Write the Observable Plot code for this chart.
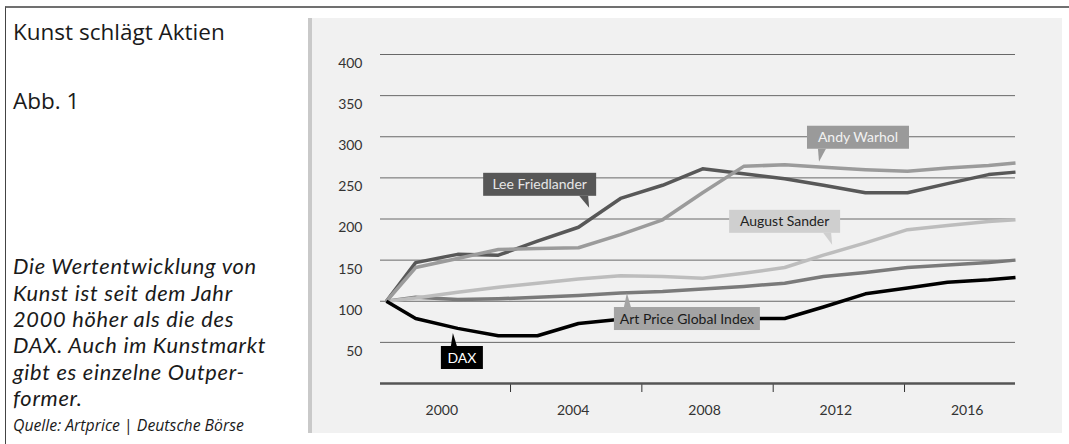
<!DOCTYPE html>
<html><head><meta charset="utf-8">
<script src="https://cdn.jsdelivr.net/npm/d3@7"></script>
<script src="https://cdn.jsdelivr.net/npm/@observablehq/plot@0.6"></script>
<style>
html,body{margin:0;padding:0;background:#fff;}
body{width:1069px;height:444px;position:relative;overflow:hidden;font-family:"Open Sans","Noto Sans",sans-serif;color:#1a1a1a;}
#frame{position:absolute;left:5px;top:6px;width:1064px;height:438px;border-top:2px solid #707070;border-left:1px solid #444;box-sizing:border-box;}
.t{position:absolute;left:13px;white-space:nowrap;}
#title{top:19.3px;font-size:22.5px;line-height:26px;}
#abb{top:88.3px;font-size:22.5px;line-height:26px;}
#desc{top:253.4px;font-family:Lato,"Open Sans",sans-serif;font-size:21.8px;line-height:26.3px;letter-spacing:0.72px;font-style:italic;}
#src{top:416.4px;font-size:15.8px;line-height:18px;font-style:italic;}
#src .bar{font-style:normal;}
#panel{position:absolute;left:308px;top:18px;width:750px;height:415px;background:#f1f1f1;border-left:4px solid #c9c9c9;}
#panel svg{display:block;}
</style>
</head><body>
<div id="frame"></div>
<div class="t" id="title">Kunst schlägt Aktien</div>
<div class="t" id="abb">Abb. 1</div>
<div class="t" id="desc">Die Wertentwicklung von<br>Kunst ist seit dem Jahr<br>2000 höher als die des<br>DAX. Auch im Kunstmarkt<br>gibt es einzelne Outper-<br>former.</div>
<div class="t" id="src">Quelle: Artprice <span class="bar">|</span> Deutsche Börse</div>
<div id="panel"></div>
<script>
// ---- data ----
const years = [1998.22, 1999.11, 2000.39, 2001.63, 2002.82, 2004.07, 2005.35, 2006.63, 2007.85, 2009.10, 2010.35, 2011.53, 2012.81, 2014.09, 2015.31, 2016.56, 2017.38];
const leeFriedlander = [100, 147, 157, 156, 173, 190, 225, 241, 261, 255, 249, 241, 232, 232, 243, 254, 257];
const andyWarhol     = [100, 141, 152, 163, 164, 165, 181, 199, 232, 264, 266, 263, 260, 258, 262, 265, 268];
const augustSander   = [100, 104, 111, 117, 122, 127, 131, 130, 128, 134, 141, 156, 171, 187, 192, 197, 199];
const artPriceIndex  = [100, 105, 102, 103, 105, 107, 110, 112, 115, 118, 122, 130, 135, 141, 144, 147, 150];
const dax            = [100, 79, 67, 58, 58, 73, 78, 79, 79, 79, 79, 93, 109, 116, 123, 126, 129];
const seriesNames = ["Art Price Global Index", "August Sander", "Lee Friedlander", "Andy Warhol", "DAX"];
const yTicks = [50, 100, 150, 200, 250, 300, 350, 400];
const xLabelYears = [2000, 2004, 2008, 2012, 2016];
const xTickYears = [2002, 2006, 2010, 2014];

// callout tips (data units)
const calloutLabels = ["Lee Friedlander", "Andy Warhol", "August Sander", "Art Price Global Index", "DAX"];
const calloutYears = [2004.41, 2011.41, 2011.81, 2005.56, 2000.26];
const calloutValues = [213, 269, 168, 109.4, 60.8];

// ---- build tables ----
const seriesValues = {
  "Art Price Global Index": artPriceIndex,
  "August Sander": augustSander,
  "Lee Friedlander": leeFriedlander,
  "Andy Warhol": andyWarhol,
  "DAX": dax
};
const rows = seriesNames.flatMap(name => seriesValues[name].map((v, i) => ({series: name, year: years[i], value: v})));
const lineColors = ["#7a7a7a", "#bdbdbd", "#585858", "#9b9b9b", "#000000"];

// callout styling / layout (pixels)
const calloutStyle = {
  "Lee Friedlander":        {fill: "#575757", text: "#e6e6e6", w: 113, edge: "right", off: 7,  side: "above", gap: 12, b0: -10, b1: -1},
  "Andy Warhol":            {fill: "#9a9a9a", text: "#f2f2f2", w: 102, edge: "left",  off: 12, side: "above", gap: 13, b0: -1,  b1: 7},
  "August Sander":          {fill: "#cfcfcf", text: "#222222", w: 111, edge: "right", off: 8,  side: "above", gap: 12, b0: -9,  b1: -1},
  "Art Price Global Index": {fill: "#a4a4a4", text: "#1a1a1a", w: 146, edge: "left",  off: 13, side: "below", gap: 14, b0: -3,  b1: 4},
  "DAX":                    {fill: "#000000", text: "#ffffff", w: 42,  edge: "left",  off: 12, side: "below", gap: 13, b0: -2,  b1: 4}
};
const callouts = calloutLabels.map((label, i) => ({label, year: calloutYears[i], value: calloutValues[i]}));

function calloutMark(c) {
  const s = calloutStyle[c.label];
  return Plot.text([c], {
    x: "year", y: "value", text: "label",
    render(index, scales, values, dimensions, context) {
      const px = scales.x(c.year), py = scales.y(c.value);
      const h = 23, w = s.w;
      const bx = s.edge === "left" ? px - s.off : px + s.off - w;
      const by = s.side === "above" ? py - s.gap - h : py + s.gap;
      const baseY = s.side === "above" ? by + h : by;
      const g = d3.create("svg:g");
      g.append("rect").attr("x", bx).attr("y", by).attr("width", w).attr("height", h).attr("fill", s.fill);
      g.append("path")
        .attr("d", `M${px + s.b0},${baseY}L${px},${py}L${px + s.b1},${baseY}Z`)
        .attr("fill", s.fill);
      g.append("text")
        .attr("x", bx + w / 2).attr("y", by + h / 2).attr("dy", "0.36em")
        .attr("text-anchor", "middle").attr("fill", s.text)
        .attr("font-size", 14).attr("font-family", "Lato, 'Noto Sans', sans-serif")
        .text(c.label);
      return g.node();
    }
  });
}

const chart = Plot.plot({
  width: 750,
  height: 415,
  marginLeft: 68,
  marginRight: 47,
  marginTop: 36,
  marginBottom: 50,
  style: {background: "transparent", fontFamily: "Lato, 'Noto Sans', sans-serif", fontSize: "14px", color: "#333"},
  x: {domain: [1998.04, 2017.38], axis: null},
  y: {domain: [0, 400], axis: null},
  color: {domain: seriesNames, range: lineColors},
  marks: [
    Plot.ruleY(yTicks, {stroke: "#686868", strokeWidth: 1}),
    Plot.axisY(yTicks, {tickSize: 0, tickPadding: 18, dy: 9, fontSize: 14, fill: "#333", label: null}),
    Plot.axisX(xLabelYears, {tickSize: 0, tickPadding: 22, dx: -3, fontSize: 14, fill: "#333", tickFormat: d => String(d), label: null}),
    Plot.axisX(xTickYears, {tickSize: 9, stroke: "#333", tickFormat: () => "", label: null}),
    Plot.ruleY([0], {stroke: "#555", strokeWidth: 2.5}),
    Plot.line(rows, {x: "year", y: "value", z: "series", stroke: "series", strokeWidth: 3.5, strokeLinejoin: "round", strokeLinecap: "butt"}),
    ...callouts.map(calloutMark)
  ]
});
document.getElementById("panel").appendChild(chart);
</script>
</body></html>
